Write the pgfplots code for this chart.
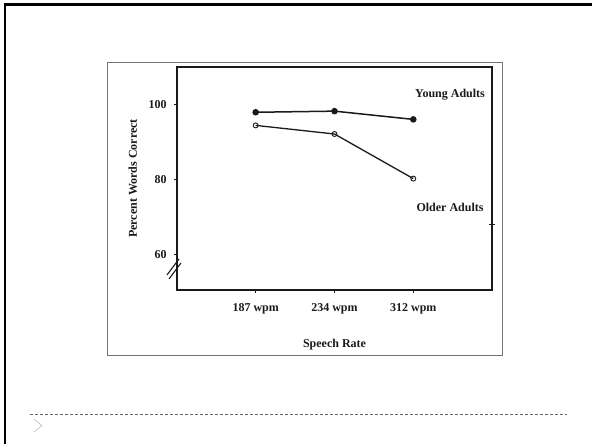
\documentclass[border=0pt]{standalone}
\usepackage{fontspec}
\setmainfont{Liberation Serif}
\usepackage{pgfplots}
\pgfplotsset{compat=1.18}
\definecolor{ink}{HTML}{1A1A1A}
\begin{document}
\begin{tikzpicture}[x=1pt,y=1pt]
\useasboundingbox (0,0) rectangle (592,444);
% slide frame (top and left)
\draw[line width=2.7pt, black] (5,0) -- (5,439.3) -- (592,439.3);
% picture box
\draw[line width=0.9pt, black!55] (107,89) rectangle (502,382);
% footer
\draw[line width=0.8pt, black!60, dash pattern=on 3pt off 2pt] (30,30) -- (567,30);
\draw[line width=0.5pt, black!30] (34,25) -- (42,18.5) -- (34,12);
\begin{axis}[
  at={(176.9pt,154pt)}, anchor=south west,
  scale only axis, width=315.2pt, height=223.1pt,
  xmin=-1, xmax=3, ymin=50.5, ymax=110,
  xtick={0,1,2}, xticklabels={187 wpm,234 wpm,312 wpm},
  ytick={60,80,100},
  xtick pos=bottom, ytick pos=left,
  tick align=outside, major tick length=3pt,
  tick style={line width=1pt, ink},
  axis line style={line width=1.4pt, ink},
  /pgf/number format/assume math mode=true,
  tick label style={font=\bfseries\fontsize{12}{14}\selectfont, text=ink},
  xticklabel style={anchor=base, yshift=-19pt},
  yticklabel style={anchor=east, inner sep=0pt, xshift=-7pt},
  xlabel={Speech Rate},
  ylabel={Percent Words Correct},
  label style={font=\bfseries\fontsize{12}{14}\selectfont, text=ink},
  xlabel style={at={(axis description cs:0.5,0)}, anchor=center, yshift=-55pt},
  ylabel style={at={(axis description cs:0,0.5)}, anchor=center, rotate=0, yshift=44pt},
  clip=false,
]
\addplot[ink, line width=1.5pt, mark=*, mark size=2.5pt, mark options={fill=ink, draw=ink}]
  coordinates {(0,97.9) (1,98.2) (2,96.0)};
\addplot[ink, line width=1.3pt, mark=o, mark size=2.5pt, mark options={fill=white, draw=ink, line width=0.9pt}]
  coordinates {(0,94.4) (1,92.1) (2,80.2)};
\node[font=\bfseries\fontsize{12}{14}\selectfont, text=ink] at (axis cs:2.466,102.5) {Young Adults};
\node[font=\bfseries\fontsize{12}{14}\selectfont, text=ink] at (axis cs:2.466,72.6) {Older Adults};
\end{axis}
% axis break marks
\draw[line width=1.1pt, ink] (167,169) -- (179,185);
\draw[line width=1.1pt, ink] (169,165) -- (181,181);
\draw[line width=0.8pt, ink] (489,220) -- (495,220);
\end{tikzpicture}
\end{document}
